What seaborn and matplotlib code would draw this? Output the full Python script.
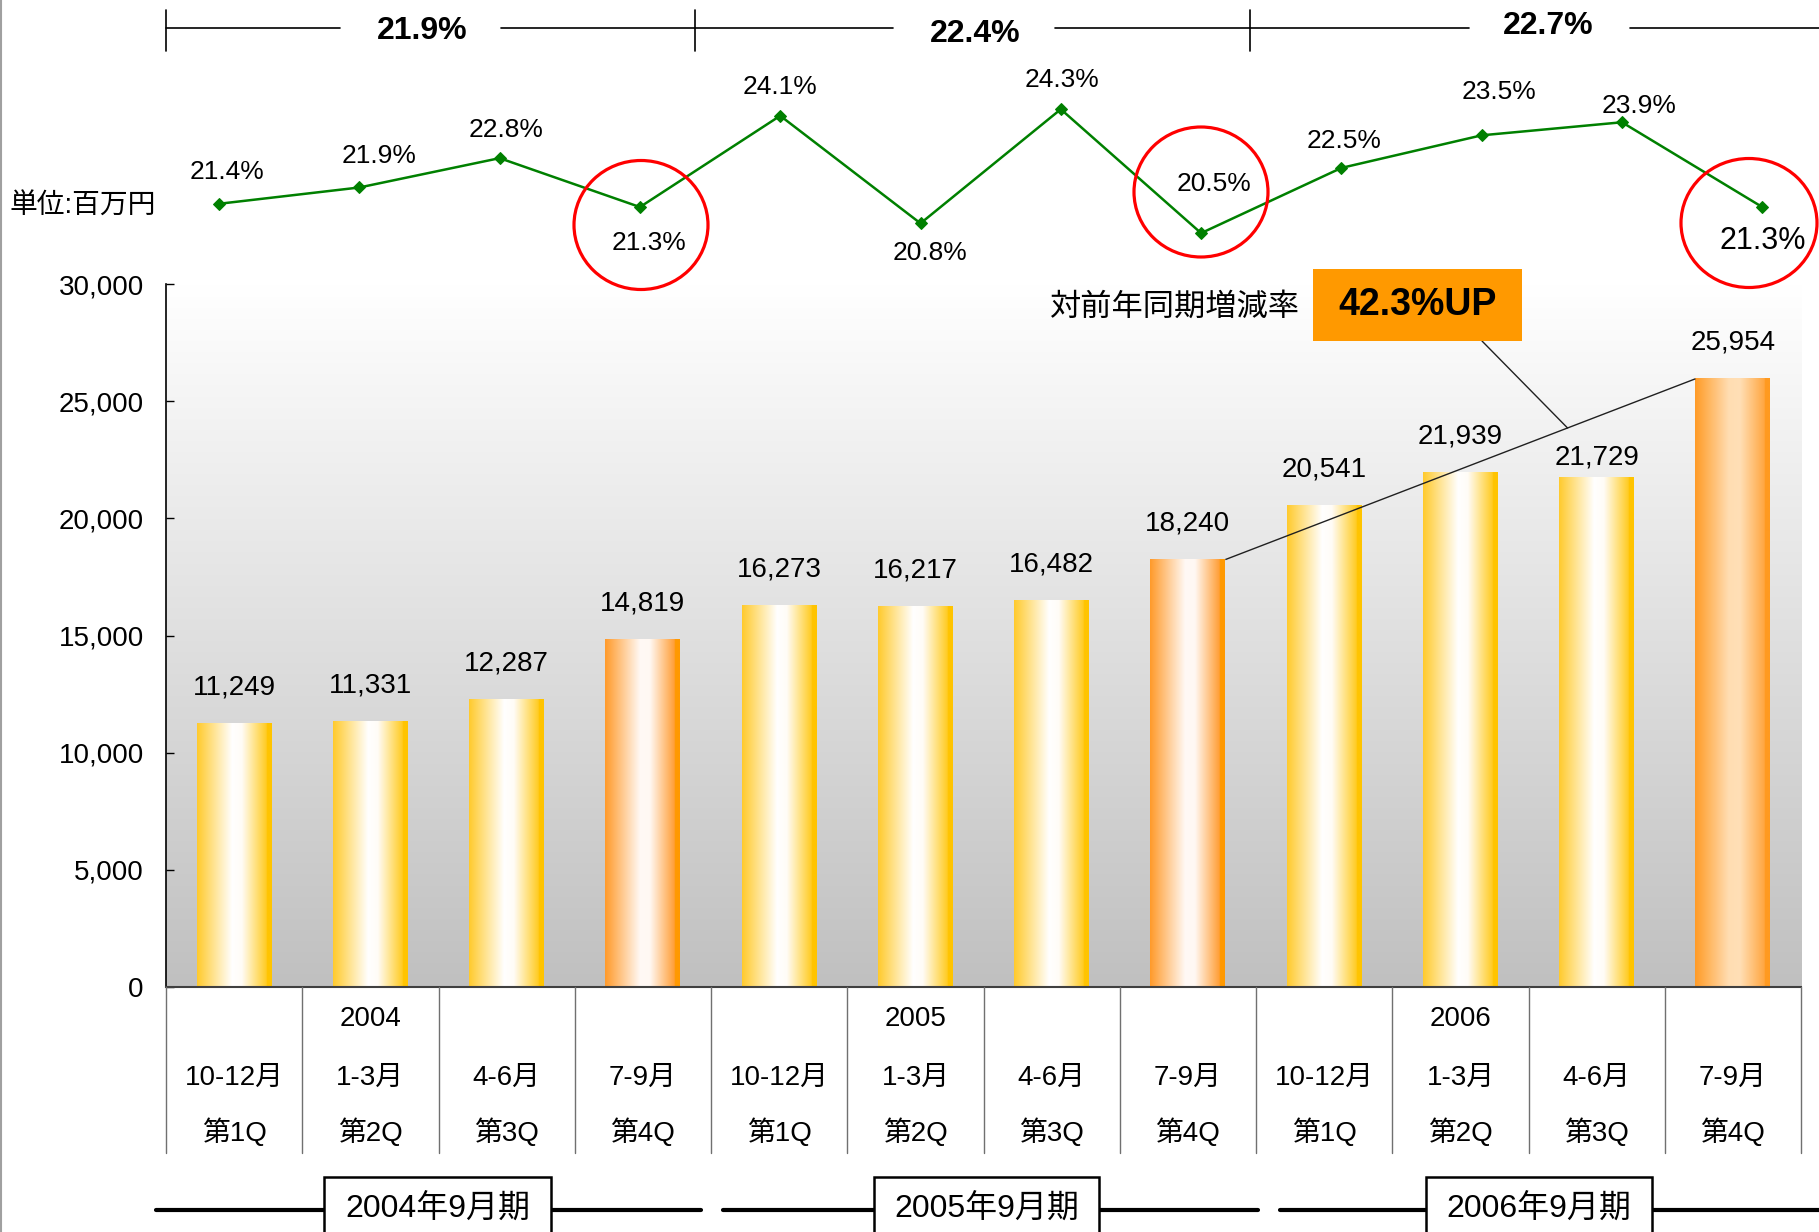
import numpy as np
import pandas as pd
import matplotlib
matplotlib.use("Agg")
import matplotlib.pyplot as plt
import seaborn as sns
from matplotlib.colors import LinearSegmentedColormap
from matplotlib.patches import Ellipse, Rectangle
from matplotlib.lines import Line2D
import matplotlib.transforms as mtransforms

# ---------------- data ----------------
quarter_ids = ["2003/10-12", "2004/1-3", "2004/4-6", "2004/7-9",
               "2004/10-12", "2005/1-3", "2005/4-6", "2005/7-9",
               "2005/10-12", "2006/1-3", "2006/4-6", "2006/7-9"]
sales = [11249, 11331, 12287, 14819, 16273, 16217, 16482, 18240,
         20541, 21939, 21729, 25954]
margin = [21.4, 21.9, 22.8, 21.3, 24.1, 20.8, 24.3, 20.5, 22.5, 23.5, 23.9, 21.3]
months = ["10-12月", "1-3月", "4-6月", "7-9月"] * 3
quarters = ["第1Q", "第2Q", "第3Q", "第4Q"] * 3
years = ["", "2004", "", "", "", "2005", "", "", "", "2006", "", ""]
periods = ["2004年9月期", "2005年9月期", "2006年9月期"]
period_margin = ["21.9%", "22.4%", "22.7%"]
yoy_label = "対前年同期増減率"
yoy_value = "42.3%UP"
unit_label = "単位:百万円"

# ---------------- styles ----------------
bar_styles = ["y", "y", "y", "o", "y", "y", "y", "o", "y", "y", "y", "p"]
value_dy = [36, 36, 36, 36, 36, 36, 36, 36, 36, 36, 20, 36]
pct_offsets = [(8, 32), (20, 31), (6, 28), (9, -36), (0, 29), (9, -30),
               (1, 29), (13, 49), (3, 27), (17, 43), (17, 16), (0, -34)]
pct_sizes = [19] * 11 + [22]

sns.set_theme(style="white")
plt.rcParams["font.family"] = ["Liberation Sans", "Noto Sans CJK JP"]
plt.rcParams["axes.unicode_minus"] = False
plt.rcParams["text.color"] = "black"
plt.rcParams["axes.labelcolor"] = "black"
plt.rcParams["xtick.color"] = "black"
plt.rcParams["ytick.color"] = "black"

W, H = 1819, 1232
fig = plt.figure(figsize=(W / 100, H / 100), dpi=100)
fig.patch.set_facecolor("white")


def fx(px):
    return px / W


def fy(py):
    return 1 - py / H


# ---------------- bar axes ----------------
ax = fig.add_axes([fx(166), fy(987), fx(1801) - fx(166), fy(284) - fy(987)])
bg = LinearSegmentedColormap.from_list("bg", ["#FFFFFF", "#C0C0C0"])
ax.imshow(np.linspace(0, 1, 256)[:, None], cmap=bg, extent=(-0.5, 11.5, 0, 30000),
          aspect="auto", zorder=0, origin="upper")

df = pd.DataFrame({"quarter": quarter_ids, "sales": sales})
sns.barplot(data=df, x="quarter", y="sales", ax=ax, width=0.55, color="#FFC820",
            saturation=1, zorder=2)
bars = list(ax.patches)

cmaps = {
    "y": LinearSegmentedColormap.from_list("y", [(0, "#FFCA2C"), (0.47, "#FFFFFF"), (0.6, "#FFFCF6"),
                                                 (0.93, "#FFCB22"), (0.935, "#FFC400"), (1, "#FFC400")]),
    "o": LinearSegmentedColormap.from_list("o", [(0, "#FF9A2A"), (0.47, "#FFF9F5"), (0.6, "#FFF8F3"),
                                                 (0.93, "#FF9E36"), (0.935, "#FF9900"), (1, "#FF9900")]),
    "p": LinearSegmentedColormap.from_list("p", [(0, "#FF9B26"), (0.45, "#FFDDB2"), (0.6, "#FFDFB6"),
                                                 (0.93, "#FFA640"), (0.935, "#FF9A20"), (1, "#FF9A20")]),
}
for p, st in zip(bars, bar_styles):
    x0, w, h = p.get_x(), p.get_width(), p.get_height()
    p.set_facecolor("none")
    p.set_edgecolor("none")
    ax.imshow(np.linspace(0, 1, 256)[None, :], cmap=cmaps[st], extent=(x0, x0 + w, 0, h),
              aspect="auto", zorder=2, interpolation="bilinear")

ax.set_xlim(-0.5, 11.5)
ax.set_ylim(0, 30000)
ax.grid(False)
ax.set_xlabel("")
ax.set_ylabel("")
for s in ["top", "right"]:
    ax.spines[s].set_visible(False)
ax.spines["left"].set_color("black")
ax.spines["left"].set_linewidth(1.2)
ax.spines["bottom"].set_color("#404040")
ax.spines["bottom"].set_linewidth(1.5)
ax.spines["left"].set_zorder(5)
ax.spines["bottom"].set_zorder(5)
ticks = list(range(0, 30001, 5000))
ax.set_yticks(ticks)
ax.set_yticklabels([f"{t:,}" for t in ticks])
ax.tick_params(axis="y", left=True, direction="in", length=6, width=1, pad=16,
               labelsize=20, colors="black")
ax.tick_params(axis="x", bottom=False, labelbottom=False)

for p, v, dy in zip(bars, sales, value_dy):
    ax.annotate(f"{v:,}", (p.get_x() + p.get_width() / 2, v), xytext=(0, dy),
                textcoords="offset pixels", ha="center", va="center", fontsize=20, color="black")

# trend line between Q4 bars
b8, b12 = bars[7], bars[11]
x_a, y_a = b8.get_x() + b8.get_width(), b8.get_height()
x_b, y_b = b12.get_x(), b12.get_height()
ax.plot([x_a, x_b], [y_a, y_b], color="#202020", lw=1.0, zorder=4, solid_capstyle="butt")
t = 0.728
ax.annotate("", xy=(x_a + t * (x_b - x_a), y_a + t * (y_b - y_a)), xycoords="data",
            xytext=(1482, H - 341), textcoords="figure pixels",
            arrowprops=dict(arrowstyle="-", color="#202020", lw=1.0, shrinkA=0, shrinkB=0))

# table below axis
blend = mtransforms.blended_transform_factory(ax.transData, fig.transFigure)
for i in range(12):
    if years[i]:
        ax.text(i, fy(1019), years[i], transform=blend, ha="center", va="center", fontsize=20)
    ax.text(i, fy(1078), months[i], transform=blend, ha="center", va="center", fontsize=20)
    ax.text(i, fy(1133), quarters[i], transform=blend, ha="center", va="center", fontsize=20)
for b in np.arange(-0.5, 12, 1.0):
    fig.add_artist(Line2D([b, b], [fy(987), fy(1153)], transform=blend, color="#707070", lw=1.0))

# ---------------- line axes ----------------
ax2 = fig.add_axes([fx(166), fy(284), fx(1801) - fx(166), fy(0) - fy(284)])
ax2.patch.set_alpha(0)
sns.lineplot(x=np.arange(12), y=margin, ax=ax2, color="#008000", lw=1.8, marker="D",
             markersize=6, markeredgecolor="#008000")
ax2.set_xlim(-0.378, 11.276)
ax2.set_ylim(18.94, 27.65)
ax2.axis("off")
for i, v in enumerate(margin):
    ax2.annotate(f"{v:.1f}%", (i, v), xytext=pct_offsets[i], textcoords="offset pixels",
                 ha="center", va="center", fontsize=pct_sizes[i], color="black")

# red circles
for cx, cy, w, h in [(641, 225, 134, 129), (1201, 192, 134, 130), (1749, 223, 136, 129)]:
    fig.add_artist(Ellipse((fx(cx), fy(cy)), w / W, h / H, transform=fig.transFigure,
                           fill=False, ec="#FF0000", lw=2.3))

# top brackets
for x0, x1 in [(166, 340), (501, 893), (1055, 1469), (1630, 1819)]:
    fig.add_artist(Line2D([fx(x0), fx(x1)], [fy(28), fy(28)], color="black", lw=1.2))
for xt in [166, 695, 1250]:
    fig.add_artist(Line2D([fx(xt), fx(xt)], [fy(10), fy(51)], color="black", lw=1.2))
for (xc, yc), lab in zip([(422, 31), (975, 34), (1548, 26)], period_margin):
    fig.text(fx(xc), fy(yc), lab, ha="center", va="center", fontsize=23, fontweight="bold",
             color="black")

# bottom period labels
for (x0, x1), (bx0, bx1), lab in zip([(156, 701), (723, 1258), (1280, 1819)],
                                      [(324, 551), (874, 1099), (1426, 1652)], periods):
    fig.add_artist(Line2D([fx(x0), fx(x1)], [fy(1210), fy(1210)], color="black", lw=3))
    fig.add_artist(Rectangle((fx(bx0), fy(1250)), fx(bx1) - fx(bx0), fy(1177) - fy(1250),
                             transform=fig.transFigure, fc="white", ec="black", lw=1.8, zorder=3))
    fig.text(fx((bx0 + bx1) / 2), fy(1210), lab, ha="center", va="center", fontsize=23, zorder=4,
             color="black")

# YoY annotation
fig.text(fx(1300), fy(308), yoy_label, ha="right", va="center", fontsize=22.5, color="black")
fig.add_artist(Rectangle((fx(1313), fy(341)), fx(1522) - fx(1313), fy(269) - fy(341),
                         transform=fig.transFigure, fc="#FF9900", ec="none", zorder=3))
fig.text(fx(1418), fy(305), yoy_value, ha="center", va="center", fontsize=27,
         fontweight="bold", zorder=4, color="black")

# unit label
fig.text(fx(9), fy(207), unit_label, ha="left", va="center", fontsize=20, color="black")

# left border
fig.add_artist(Line2D([fx(1), fx(1)], [0, 1], color="#A0A0A0", lw=1.5))

fig.savefig("out.png", dpi=100)
